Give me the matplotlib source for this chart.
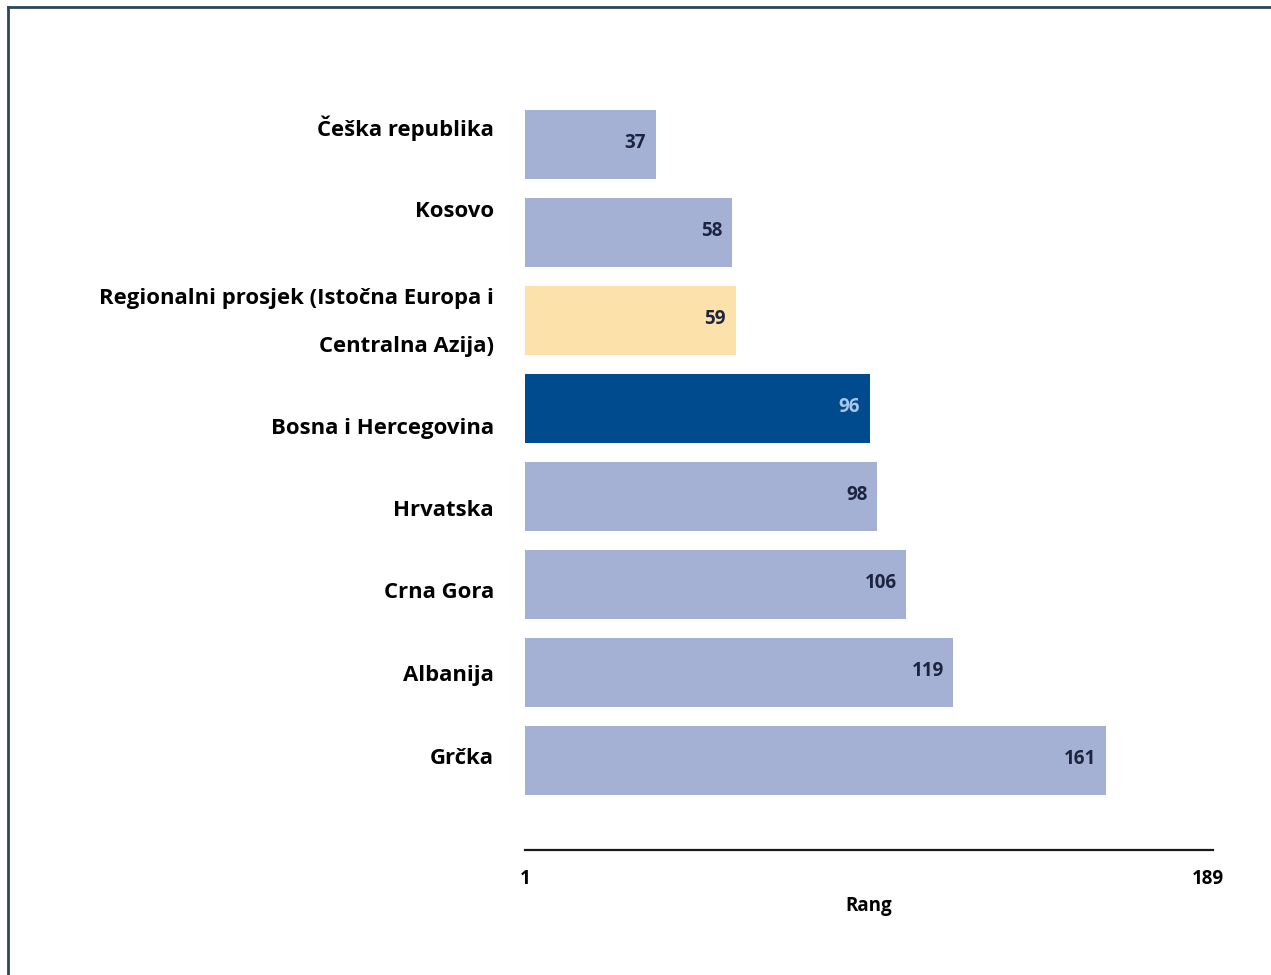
import matplotlib
matplotlib.use("Agg")
import matplotlib.pyplot as plt
from matplotlib.lines import Line2D

categories = ["Češka republika", "Kosovo",
              "Regionalni prosjek (Istočna Europa i\nCentralna Azija)",
              "Bosna i Hercegovina", "Hrvatska", "Crna Gora", "Albanija", "Grčka"]
values = [37, 58, 59, 96, 98, 106, 119, 161]
bar_colors = ["#a4b0d4", "#a4b0d4", "#fde1ab", "#004b8d",
              "#a4b0d4", "#a4b0d4", "#a4b0d4", "#a4b0d4"]
value_colors = ["#1c2440"] * 3 + ["#a9c6ea"] + ["#1c2440"] * 4
label_offsets_px = [-16, -21, 2, 20, 14, 8, 3, -2]
x_ticks = [1, 189]
x_label = "Rang"

W, H = 1271, 975
fig = plt.figure(figsize=(W / 100, H / 100), dpi=100)
fig.patch.set_facecolor("white")
FONT = ["Open Sans", "DejaVu Sans"]

ax = fig.add_axes([525 / W, (H - 850) / H, (1213 - 525) / W, (850 - 80) / H])
ypos = list(range(len(categories)))
ax.barh(ypos, values, height=0.795, color=bar_colors, zorder=2)
ax.set_xlim(1, 190.5)
ax.set_ylim(8.017, -0.733)

for y, v, c in zip(ypos, values, value_colors):
    ax.annotate(str(v), xy=(v, y), xytext=(-7, 1), textcoords="offset points",
                ha="right", va="center", fontsize=13.5, fontweight="bold",
                color=c, family=FONT, zorder=3)

for y, lab, off in zip(ypos, categories, label_offsets_px):
    ax.annotate(lab, xy=(0, y), xycoords=("axes fraction", "data"),
                xytext=(-31 * 0.72, -off * 0.72), textcoords="offset points",
                ha="right", va="center", fontsize=15.9, fontweight="bold",
                color="black", family=FONT, linespacing=2.65)

for s in ["top", "right", "left"]:
    ax.spines[s].set_visible(False)
ax.spines["bottom"].set_linewidth(1.6)
ax.spines["bottom"].set_color("#1a1a1a")
ax.set_yticks([])
ax.set_xticks(x_ticks)
ax.set_xticklabels([str(t) for t in x_ticks], fontsize=13.5, fontweight="bold",
                   family=FONT)
ax.tick_params(axis="x", length=0, pad=14)
ax.set_xlabel(x_label, fontsize=13.5, fontweight="bold", family=FONT, labelpad=5)
ax.set_facecolor("none")

# frame border (left and top)
fig.add_artist(Line2D([8 / W, 8 / W], [0, 1 - 7 / H], transform=fig.transFigure,
                      color="#2c4757", lw=2))
fig.add_artist(Line2D([8 / W, 1], [1 - 7 / H, 1 - 7 / H], transform=fig.transFigure,
                      color="#2c4757", lw=2))

fig.savefig("out.png", dpi=100)
